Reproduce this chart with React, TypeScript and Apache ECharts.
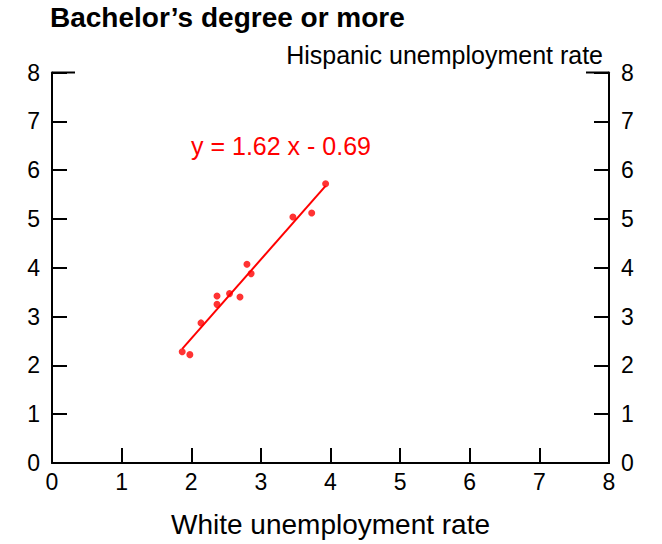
import React, { useEffect, useRef } from "react";
import * as echarts from "echarts";

const whiteRate = [1.87, 1.98, 2.14, 2.37, 2.37, 2.55, 2.70, 2.80, 2.86, 3.46, 3.73, 3.93];
const hispanicRate = [2.28, 2.22, 2.87, 3.42, 3.25, 3.47, 3.40, 4.07, 3.88, 5.04, 5.12, 5.72];
const slope = 1.62;
const intercept = -0.69;
const tickValues = [0, 1, 2, 3, 4, 5, 6, 7, 8];

const FONT = "'Liberation Sans', Arial, Helvetica, sans-serif";

export default function App() {
  const ref = useRef<HTMLDivElement>(null);
  useEffect(() => {
    if (!ref.current) return;
    const chart = echarts.init(ref.current, undefined, { renderer: "svg" });
    const points = whiteRate.map((x, i) => [x, hispanicRate[i]]);
    const xMin = Math.min(...whiteRate);
    const xMax = Math.max(...whiteRate);
    const fitLine = [
      [xMin, slope * xMin + intercept],
      [xMax, slope * xMax + intercept],
    ];
    const axisMin = tickValues[0];
    const axisMax = tickValues[tickValues.length - 1];
    const yAxisCommon = {
      type: "value" as const,
      min: axisMin,
      max: axisMax,
      interval: 1,
      axisLine: { show: true, onZero: false, lineStyle: { color: "#000", width: 2 } },
      axisTick: { show: true, inside: true, length: 15, lineStyle: { color: "#000", width: 2 } },
      axisLabel: { color: "#000", fontSize: 23, fontFamily: FONT, margin: 12 },
      splitLine: { show: false },
    };
    chart.setOption({
      animation: false,
      backgroundColor: "#fff",
      grid: { left: 52, right: 53, top: 72.5, bottom: 81, containLabel: false },
      title: [
        {
          text: "Bachelor\u2019s degree or more",
          left: 50,
          top: 3,
          padding: 0,
          textStyle: { fontSize: 28, fontWeight: "bold", color: "#000", fontFamily: FONT },
        },
        {
          text: "Hispanic unemployment rate",
          right: 59,
          top: 42,
          padding: 0,
          textStyle: { fontSize: 25, fontWeight: "normal", color: "#000", fontFamily: FONT },
        },
        {
          text: `y = ${slope.toFixed(2)} x - ${Math.abs(intercept).toFixed(2)}`,
          left: 191,
          top: 133,
          padding: 0,
          textStyle: { fontSize: 25, fontWeight: "normal", color: "#ff0000", fontFamily: FONT },
        },
      ],
      xAxis: {
        type: "value",
        min: axisMin,
        max: axisMax,
        interval: 1,
        name: "White unemployment rate",
        nameLocation: "middle",
        nameGap: 47,
        nameTextStyle: { color: "#000", fontSize: 28, fontFamily: FONT },
        axisLine: { show: true, onZero: false, lineStyle: { color: "#000", width: 2 } },
        axisTick: { show: true, inside: true, length: 15, lineStyle: { color: "#000", width: 2 } },
        axisLabel: { color: "#000", fontSize: 23, fontFamily: FONT, margin: 7 },
        splitLine: { show: false },
      },
      yAxis: [
        { ...yAxisCommon, position: "left" },
        { ...yAxisCommon, position: "right" },
      ],
      series: [
        {
          type: "line",
          data: fitLine,
          symbol: "none",
          lineStyle: { color: "#ff0000", width: 2 },
          silent: true,
        },
        {
          type: "scatter",
          data: points,
          symbolSize: 7,
          itemStyle: { color: "#ff0000" },
        },
      ],
    });

    const topLeft = chart.convertToPixel({ gridIndex: 0 }, [axisMin, axisMax]) as number[];
    const topRight = chart.convertToPixel({ gridIndex: 0 }, [axisMax, axisMax]) as number[];
    if (topLeft && topRight) {
      chart.setOption({
        graphic: [
          {
            type: "line",
            shape: { x1: topLeft[0], y1: topLeft[1], x2: topLeft[0] + 23, y2: topLeft[1] },
            style: { stroke: "#000", lineWidth: 2 },
          },
          {
            type: "line",
            shape: { x1: topRight[0] - 23, y1: topRight[1], x2: topRight[0], y2: topRight[1] },
            style: { stroke: "#000", lineWidth: 2 },
          },
        ],
      });
    }
    return () => chart.dispose();
  }, []);
  return <div ref={ref} style={{ width: 662, height: 544, position: "absolute", left: 0, top: 0 }} />;
}
